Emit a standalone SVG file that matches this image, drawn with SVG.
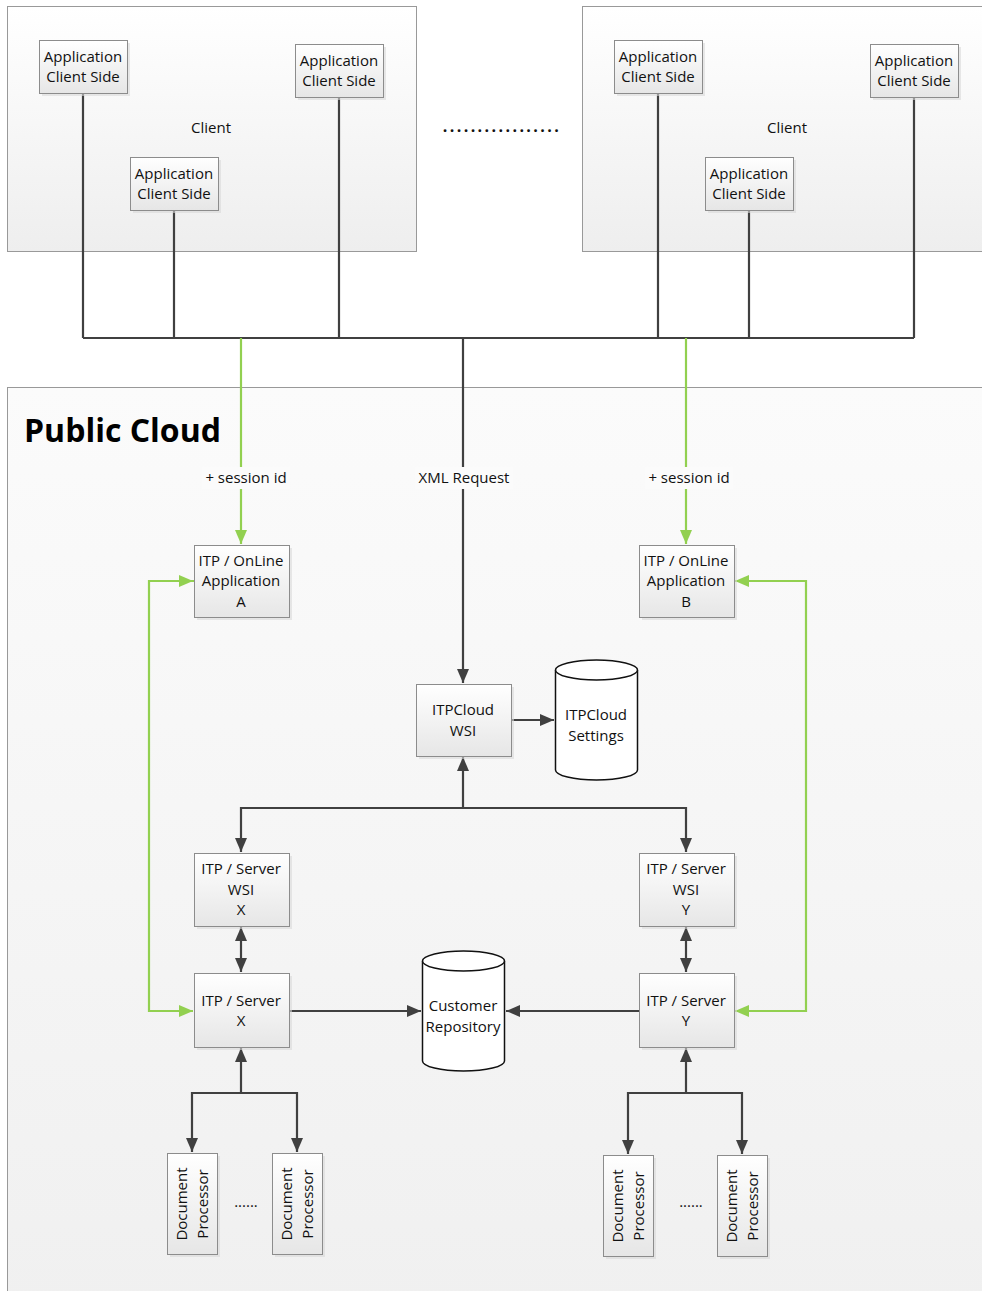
<svg xmlns="http://www.w3.org/2000/svg" width="982" height="1291" viewBox="0 0 982 1291">
<defs>
<linearGradient id="gBox" x1="0" y1="0" x2="0" y2="1"><stop offset="0" stop-color="#ffffff"/><stop offset="1" stop-color="#e6e6e6"/></linearGradient>
<linearGradient id="gGroup" x1="0" y1="0" x2="0" y2="1"><stop offset="0" stop-color="#ffffff"/><stop offset="1" stop-color="#eeeeee"/></linearGradient>
<linearGradient id="gCloud" x1="0" y1="0" x2="0" y2="1"><stop offset="0" stop-color="#fbfbfb"/><stop offset="1" stop-color="#f0f0f0"/></linearGradient>
<marker id="ad" viewBox="0 0 14 12" refX="14" refY="6" markerWidth="14" markerHeight="12" markerUnits="userSpaceOnUse" orient="auto-start-reverse"><path d="M0,0 L14,6 L0,12 Z" fill="#404040"/></marker>
<marker id="ag" viewBox="0 0 14 12" refX="14" refY="6" markerWidth="14" markerHeight="12" markerUnits="userSpaceOnUse" orient="auto-start-reverse"><path d="M0,0 L14,6 L0,12 Z" fill="#92d050"/></marker>
</defs>
<style>
text{font-family:"Open Sans","Noto Sans","Liberation Sans",sans-serif;font-size:15px;fill:#111;text-anchor:middle}
.grp{fill:url(#gGroup);stroke:#999;stroke-width:1}
.box{fill:url(#gBox);stroke:#8c8c8c;stroke-width:1}
.sh{fill:#d8d8d8;opacity:0.6}
.cyl{fill:#fff;stroke:#111;stroke-width:1.5}
.d{fill:none;stroke:#404040;stroke-width:2.2}
.g{fill:none;stroke:#92d050;stroke-width:2.2}
.lbl{fill:#fbfbfb}
</style>

<g id="client-left">
<rect class="grp" x="7.5" y="6.5" width="409" height="245"/>
<text x="211" y="133">Client</text>
</g>
<g id="client-right">
<rect class="grp" x="582.5" y="6.5" width="420" height="245"/>
<text x="787" y="133">Client</text>
</g>
<g id="dots-clients"><text x="502" y="132" style="font-size:16px;font-weight:bold;letter-spacing:2.4px">.................</text></g>

<g id="public-cloud">
<rect x="7.5" y="387.5" width="990" height="920" fill="url(#gCloud)" stroke="#999"/>
<text x="24" y="442" style="font-size:32px;font-weight:bold;text-anchor:start;fill:#000">Public Cloud</text>
</g>

<g id="connectors">
<path class="d" d="M83,93 V338 M174,210 V338 M339,97 V338 M658,93 V338 M749,210 V338 M914,97 V338 M83,338 H914"/>
<path class="g" d="M241,338 V544" marker-end="url(#ag)"/>
<path class="g" d="M686,338 V544" marker-end="url(#ag)"/>
<path class="d" d="M463,338 V683" marker-end="url(#ad)"/>
<rect class="lbl" x="202" y="467" width="88" height="22"/>
<rect class="lbl" x="645" y="467" width="88" height="22"/>
<rect class="lbl" x="415" y="467" width="98" height="22"/>
<text x="246" y="483">+ session id</text>
<text x="689" y="483">+ session id</text>
<text x="464" y="483">XML Request</text>
<path class="d" d="M511,720 H554" marker-end="url(#ad)"/>
<path class="d" d="M463,808 V757" marker-end="url(#ad)"/>
<path class="d" d="M463,808 H241 V852" marker-end="url(#ad)"/>
<path class="d" d="M463,808 H686 V852" marker-end="url(#ad)"/>
<path class="d" d="M241,927 V972" marker-start="url(#ad)" marker-end="url(#ad)"/>
<path class="d" d="M686,927 V972" marker-start="url(#ad)" marker-end="url(#ad)"/>
<path class="d" d="M289,1011 H421" marker-end="url(#ad)"/>
<path class="d" d="M639,1011 H506" marker-end="url(#ad)"/>
<path class="g" d="M194,581 H149 V1011 H193" marker-end="url(#ag)"/>
<path class="g" d="M149,581 H193" marker-end="url(#ag)"/>
<path class="g" d="M735,581 H806 V1011 H735" marker-start="url(#ag)" marker-end="url(#ag)"/>
<path class="d" d="M241,1093 V1048" marker-end="url(#ad)"/>
<path class="d" d="M241,1093 H192 V1152" marker-end="url(#ad)"/>
<path class="d" d="M241,1093 H297 V1152" marker-end="url(#ad)"/>
<path class="d" d="M686,1093 V1048" marker-end="url(#ad)"/>
<path class="d" d="M686,1093 H628 V1154" marker-end="url(#ad)"/>
<path class="d" d="M686,1093 H742 V1154" marker-end="url(#ad)"/>
</g>

<g id="app-l1"><rect class="sh" x="42" y="43" width="88" height="53"/><rect class="box" x="39.5" y="40.5" width="88" height="53"/><text x="83" y="62">Application</text><text x="83" y="82">Client Side</text></g>
<g id="app-l2"><rect class="sh" x="298" y="47" width="88" height="53"/><rect class="box" x="295.5" y="44.5" width="88" height="53"/><text x="339" y="66">Application</text><text x="339" y="86">Client Side</text></g>
<g id="app-l3"><rect class="sh" x="133" y="160" width="88" height="53"/><rect class="box" x="130.5" y="157.5" width="88" height="53"/><text x="174" y="179">Application</text><text x="174" y="199">Client Side</text></g>
<g id="app-r1"><rect class="sh" x="617" y="43" width="88" height="53"/><rect class="box" x="614.5" y="40.5" width="88" height="53"/><text x="658" y="62">Application</text><text x="658" y="82">Client Side</text></g>
<g id="app-r2"><rect class="sh" x="873" y="47" width="88" height="53"/><rect class="box" x="870.5" y="44.5" width="88" height="53"/><text x="914" y="66">Application</text><text x="914" y="86">Client Side</text></g>
<g id="app-r3"><rect class="sh" x="708" y="160" width="88" height="53"/><rect class="box" x="705.5" y="157.5" width="88" height="53"/><text x="749" y="179">Application</text><text x="749" y="199">Client Side</text></g>

<g id="online-a"><rect class="sh" x="197" y="548" width="95" height="72"/><rect class="box" x="194.5" y="545.5" width="95" height="72"/><text x="241" y="566">ITP / OnLine</text><text x="241" y="586">Application</text><text x="241" y="607">A</text></g>
<g id="online-b"><rect class="sh" x="642" y="548" width="95" height="72"/><rect class="box" x="639.5" y="545.5" width="95" height="72"/><text x="686" y="566">ITP / OnLine</text><text x="686" y="586">Application</text><text x="686" y="607">B</text></g>

<g id="itpcloud-wsi"><rect class="sh" x="419" y="687" width="95" height="72"/><rect class="box" x="416.5" y="684.5" width="95" height="72"/><text x="463" y="715">ITPCloud</text><text x="463" y="736">WSI</text></g>
<g id="itpcloud-settings"><path class="cyl" d="M555.5,670 A41,10 0 0 1 637.5,670 V770 A41,10 0 0 1 555.5,770 Z"/><path class="cyl" d="M555.5,670 A41,10 0 0 0 637.5,670" fill="none"/><text x="596" y="720">ITPCloud</text><text x="596" y="741">Settings</text></g>

<g id="server-wsi-x"><rect class="sh" x="197" y="856" width="95" height="73"/><rect class="box" x="194.5" y="853.5" width="95" height="73"/><text x="241" y="874">ITP / Server</text><text x="241" y="895">WSI</text><text x="241" y="915">X</text></g>
<g id="server-wsi-y"><rect class="sh" x="642" y="856" width="95" height="73"/><rect class="box" x="639.5" y="853.5" width="95" height="73"/><text x="686" y="874">ITP / Server</text><text x="686" y="895">WSI</text><text x="686" y="915">Y</text></g>
<g id="server-x"><rect class="sh" x="197" y="976" width="95" height="74"/><rect class="box" x="194.5" y="973.5" width="95" height="74"/><text x="241" y="1006">ITP / Server</text><text x="241" y="1026">X</text></g>
<g id="server-y"><rect class="sh" x="642" y="976" width="95" height="74"/><rect class="box" x="639.5" y="973.5" width="95" height="74"/><text x="686" y="1006">ITP / Server</text><text x="686" y="1026">Y</text></g>

<g id="customer-repo"><path class="cyl" d="M422.5,961 A41,10 0 0 1 504.5,961 V1061 A41,10 0 0 1 422.5,1061 Z"/><path class="cyl" d="M422.5,961 A41,10 0 0 0 504.5,961" fill="none"/><text x="463" y="1011">Customer</text><text x="463" y="1032">Repository</text></g>

<g id="docproc-x1"><rect class="sh" x="170" y="1156" width="50" height="101"/><rect class="box" x="167.5" y="1153.5" width="50" height="101"/><text transform="translate(192,1204) rotate(-90)"><tspan x="0" y="-5">Document</tspan><tspan x="0" y="16">Processor</tspan></text></g>
<g id="docproc-x2"><rect class="sh" x="275" y="1156" width="50" height="101"/><rect class="box" x="272.5" y="1153.5" width="50" height="101"/><text transform="translate(297,1204) rotate(-90)"><tspan x="0" y="-5">Document</tspan><tspan x="0" y="16">Processor</tspan></text></g>
<g id="dots-x"><text x="246" y="1207">......</text></g>
<g id="docproc-y1"><rect class="sh" x="606" y="1158" width="50" height="101"/><rect class="box" x="603.5" y="1155.5" width="50" height="101"/><text transform="translate(628,1206) rotate(-90)"><tspan x="0" y="-5">Document</tspan><tspan x="0" y="16">Processor</tspan></text></g>
<g id="docproc-y2"><rect class="sh" x="720" y="1158" width="50" height="101"/><rect class="box" x="717.5" y="1155.5" width="50" height="101"/><text transform="translate(742,1206) rotate(-90)"><tspan x="0" y="-5">Document</tspan><tspan x="0" y="16">Processor</tspan></text></g>
<g id="dots-y"><text x="691" y="1207">......</text></g>
</svg>
